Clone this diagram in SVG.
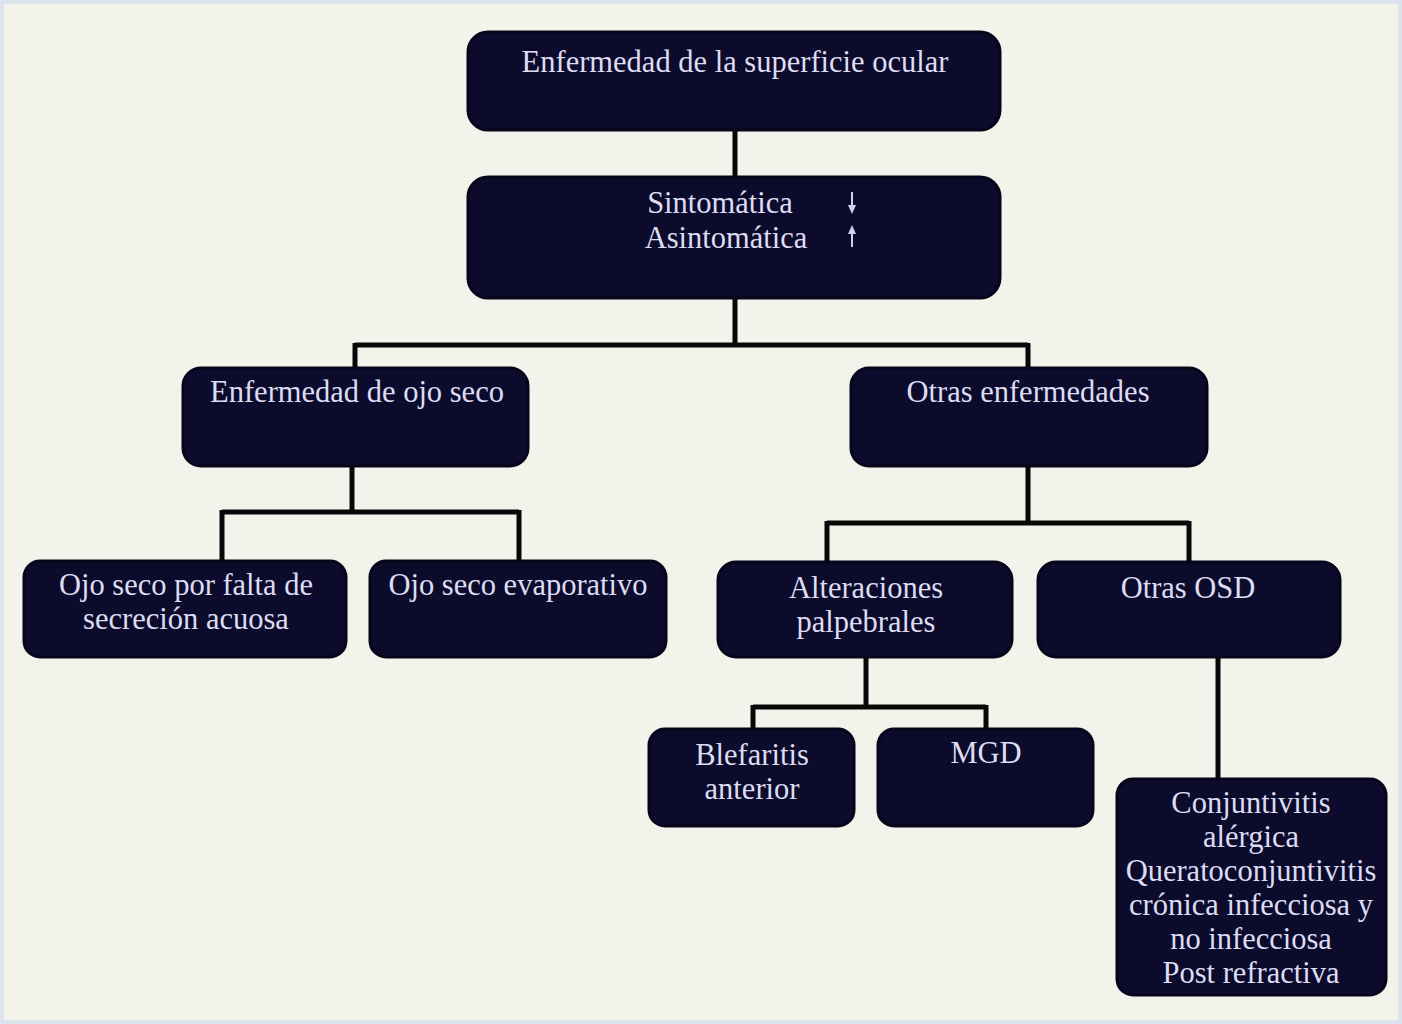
<svg xmlns="http://www.w3.org/2000/svg" width="1402" height="1024" viewBox="0 0 1402 1024">
<defs>
<style>
.bg{fill:#f3f3eb}
.box{fill:#0d0b2c;stroke:#06051a;stroke-width:3}
.t{font-family:"Liberation Serif","Times New Roman",serif;font-size:30.5px;fill:#dcdcf2;text-anchor:middle}
.c{fill:none;stroke:#080808;stroke-width:5;stroke-linejoin:miter}
.ar{stroke:#d0d0ea;stroke-width:2;fill:none}
</style>
<marker id="ah" markerWidth="10" markerHeight="10" refX="5" refY="5" orient="auto" markerUnits="userSpaceOnUse">
<path d="M0,1 L9,5 L0,9 z" fill="#d0d0ea"/>
</marker>
</defs>
<rect class="bg" x="0" y="0" width="1402" height="1024"/>
<rect x="2" y="2" width="1398" height="1020" fill="none" stroke="#d9e4ec" stroke-width="4"/>

<g id="connectors">
<path class="c" d="M735,128 V179"/>
<path class="c" d="M735,296 V345 M355,345 H1028 M355,343 V370 M1028,343 V370"/>
<path class="c" d="M352,464 V512 M222,512 H519 M222,510 V563 M519,510 V563"/>
<path class="c" d="M1028,464 V523 M827,523 H1189 M827,521 V564 M1189,521 V564"/>
<path class="c" d="M866,655 V707 M753,707 H986 M753,705 V731 M986,705 V731"/>
<path class="c" d="M1218,655 V781"/>
</g>

<g id="n1"><rect class="box" x="468" y="32" width="532" height="98" rx="20"/>
<text class="t" x="735" y="72">Enfermedad de la superficie ocular</text></g>

<g id="n2"><rect class="box" x="468" y="177" width="532" height="121" rx="20"/>
<text class="t" x="720" y="213">Sintomática</text>
<text class="t" x="726" y="248">Asintomática</text>
<line class="ar" x1="852" y1="192" x2="852" y2="210" marker-end="url(#ah)"/>
<line class="ar" x1="852" y1="247" x2="852" y2="229" marker-end="url(#ah)"/></g>

<g id="n3"><rect class="box" x="183" y="368" width="345" height="98" rx="18"/>
<text class="t" x="357" y="402">Enfermedad de ojo seco</text></g>

<g id="n4"><rect class="box" x="851" y="368" width="356" height="98" rx="18"/>
<text class="t" x="1028" y="402">Otras enfermedades</text></g>

<g id="n5"><rect class="box" x="24" y="561" width="322" height="96" rx="16"/>
<text class="t" x="186" y="595">Ojo seco por falta de</text>
<text class="t" x="186" y="629">secreción acuosa</text></g>

<g id="n6"><rect class="box" x="370" y="561" width="296" height="96" rx="16"/>
<text class="t" x="518" y="595">Ojo seco evaporativo</text></g>

<g id="n7"><rect class="box" x="718" y="562" width="294" height="95" rx="18"/>
<text class="t" x="866" y="598">Alteraciones</text>
<text class="t" x="866" y="632">palpebrales</text></g>

<g id="n8"><rect class="box" x="1038" y="562" width="302" height="95" rx="18"/>
<text class="t" x="1188" y="598">Otras OSD</text></g>

<g id="n9"><rect class="box" x="649" y="729" width="205" height="97" rx="16"/>
<text class="t" x="752" y="765">Blefaritis</text>
<text class="t" x="752" y="799">anterior</text></g>

<g id="n10"><rect class="box" x="878" y="729" width="215" height="97" rx="16"/>
<text class="t" x="986" y="763">MGD</text></g>

<g id="n11"><rect class="box" x="1117" y="779" width="269" height="216" rx="16"/>
<text class="t" x="1251" y="813">Conjuntivitis</text>
<text class="t" x="1251" y="847">alérgica</text>
<text class="t" x="1251" y="881">Queratoconjuntivitis</text>
<text class="t" x="1251" y="915">crónica infecciosa y</text>
<text class="t" x="1251" y="949">no infecciosa</text>
<text class="t" x="1251" y="983">Post refractiva</text></g>
</svg>
